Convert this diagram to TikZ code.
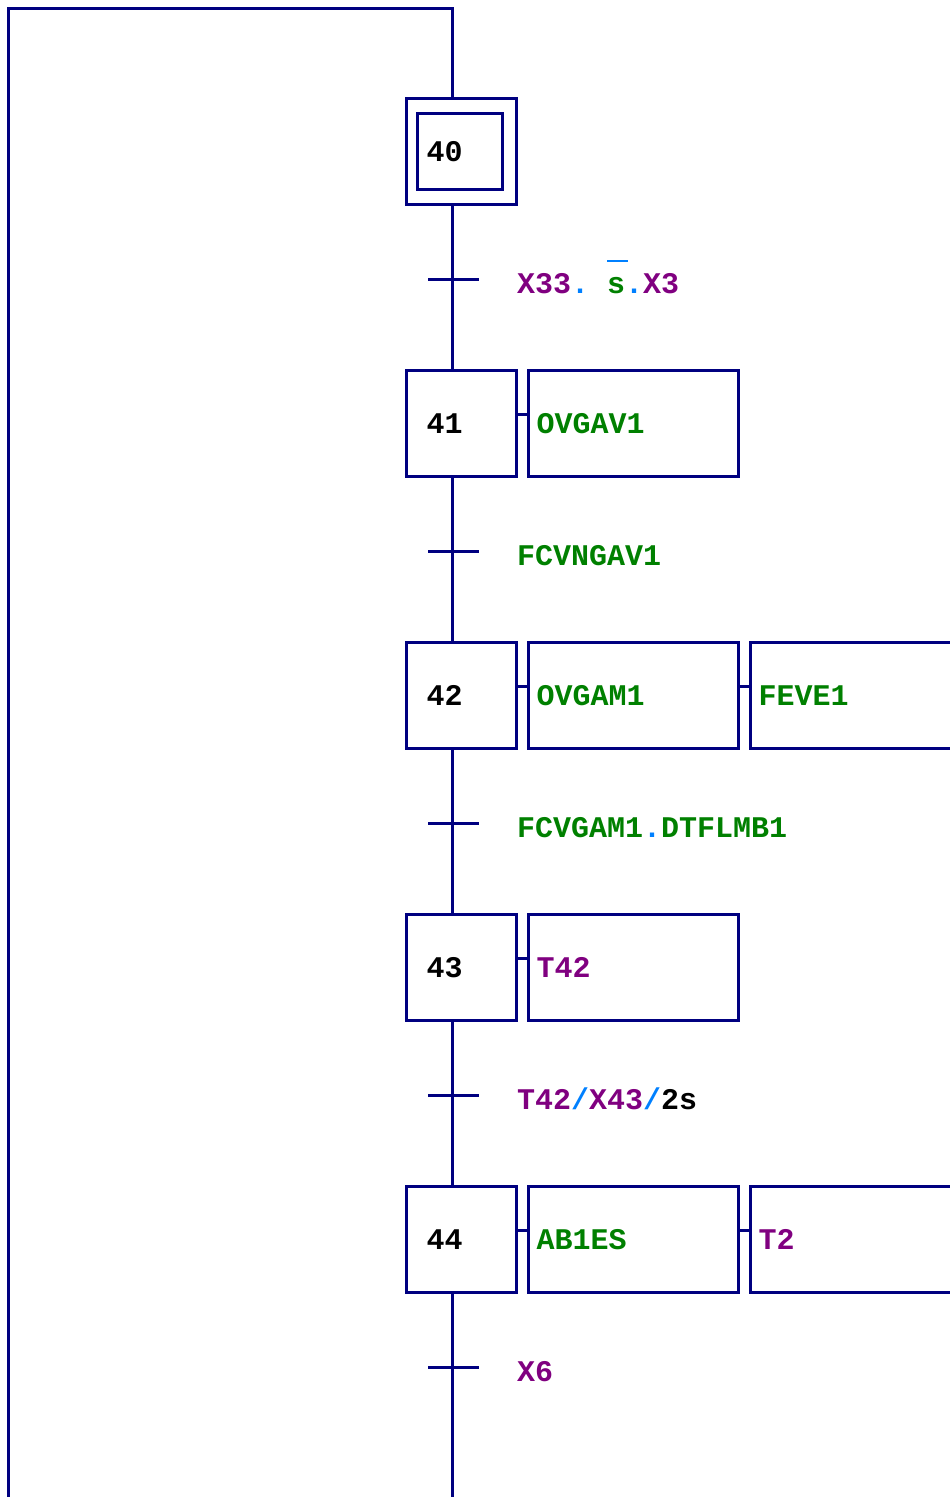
\documentclass[tikz,border=0pt]{standalone}
\usepackage{fontspec}
\newfontfamily\grafont{Liberation Mono}
\usetikzlibrary{calc}
\definecolor{grline}{RGB}{0,0,128}
\definecolor{varpurple}{RGB}{128,0,128}
\definecolor{actgreen}{RGB}{0,128,0}
\definecolor{opblue}{RGB}{0,128,255}
% coloured pieces of the Grafcet expressions
\newcommand{\vp}[1]{\textcolor{varpurple}{#1}}
\newcommand{\ag}[1]{\textcolor{actgreen}{#1}}
\newcommand{\ob}[1]{\textcolor{opblue}{#1}}
\newcommand{\sbar}{\makebox[0pt][l]{\raisebox{31pt}{\textcolor{opblue}{\rule{21pt}{2.5pt}}}}\ag{s}}
\begin{document}
\begin{tikzpicture}[x=1pt,y=-1pt,
  txt/.style={font=\grafont\bfseries\fontsize{30}{30}\selectfont},
  wire/.style={draw=grline,line width=3pt},
  stepbox/.style={txt,draw=grline,line width=3pt,anchor=north west,
    minimum width=110pt,minimum height=106pt,text width=70pt,
    inner xsep=20pt,inner ysep=0pt,align=left,text=black},
  actbox/.style={txt,draw=grline,line width=3pt,anchor=north west,
    minimum width=210pt,minimum height=106pt,text width=194pt,
    inner xsep=8pt,inner ysep=0pt,align=left},
  condlabel/.style={txt,anchor=base west,inner sep=0pt},
]
\clip (0,0) rectangle (950,1497);

% frame and initial step
\coordinate (corner) at (8,8);
\coordinate (top) at (452,8);
\coordinate (botl) at (8,1497);
\coordinate (bot) at (452,1497);

\node[stepbox,text width=0pt,inner xsep=0pt] (s40) at (405,97) {};
\node[stepbox,minimum width=85pt,minimum height=76pt,text width=67pt,inner xsep=9pt] (s40i) at (416,112) {40};

% steps
\node[stepbox] (s41) at (405,369) {41};
\node[stepbox] (s42) at (405,641) {42};
\node[stepbox] (s43) at (405,913) {43};
\node[stepbox] (s44) at (405,1185) {44};

% actions
\node[actbox] (a41) at (527,369) {\ag{OVGAV1}};
\node[actbox] (a42) at (527,641) {\ag{OVGAM1}};
\node[actbox] (b42) at (749,641) {\ag{FEVE1}};
\node[actbox] (a43) at (527,913) {\vp{T42}};
\node[actbox] (a44) at (527,1185) {\ag{AB1ES}};
\node[actbox] (b44) at (749,1185) {\vp{T2}};

% transitions
\coordinate (t1) at (452,279);
\coordinate (t2) at (452,551);
\coordinate (t3) at (452,823);
\coordinate (t4) at (452,1095);
\coordinate (t5) at (452,1367);

\node[condlabel] (c1) at (517,293) {\vp{X33}\ob{.}\ \sbar\ob{.}\vp{X3}};
\node[condlabel] (c2) at (517,565) {\ag{FCVNGAV1}};
\node[condlabel] (c3) at (517,837) {\ag{FCVGAM1}\ob{.}\ag{DTFLMB1}};
\node[condlabel] (c4) at (517,1109) {\vp{T42}\ob{/}\vp{X43}\ob{/}2s};
\node[condlabel] (c5) at (517,1381) {\vp{X6}};

\foreach \t in {t1,t2,t3,t4,t5}
  \draw[wire] ([xshift=-24pt]\t) -- ([xshift=27pt]\t);

% main links
\draw[wire] (botl) -- (corner) -- (top) -- (top |- s40.north);
\draw[wire] (s40.south -| top) -- (t1) -- (t1 |- s41.north);
\draw[wire] (s41.south -| t1) -- (t2) -- (t2 |- s42.north);
\draw[wire] (s42.south -| t2) -- (t3) -- (t3 |- s43.north);
\draw[wire] (s43.south -| t3) -- (t4) -- (t4 |- s44.north);
\draw[wire] (s44.south -| t4) -- (t5) -- (bot);

% action links
\draw[wire] ($(s41.north east)+(0,45)$) -- ($(a41.north west)+(0,45)$);
\draw[wire] ($(s42.north east)+(0,45)$) -- ($(a42.north west)+(0,45)$);
\draw[wire] ($(a42.north east)+(0,45)$) -- ($(b42.north west)+(0,45)$);
\draw[wire] ($(s43.north east)+(0,45)$) -- ($(a43.north west)+(0,45)$);
\draw[wire] ($(s44.north east)+(0,45)$) -- ($(a44.north west)+(0,45)$);
\draw[wire] ($(a44.north east)+(0,45)$) -- ($(b44.north west)+(0,45)$);
\end{tikzpicture}
\end{document}
